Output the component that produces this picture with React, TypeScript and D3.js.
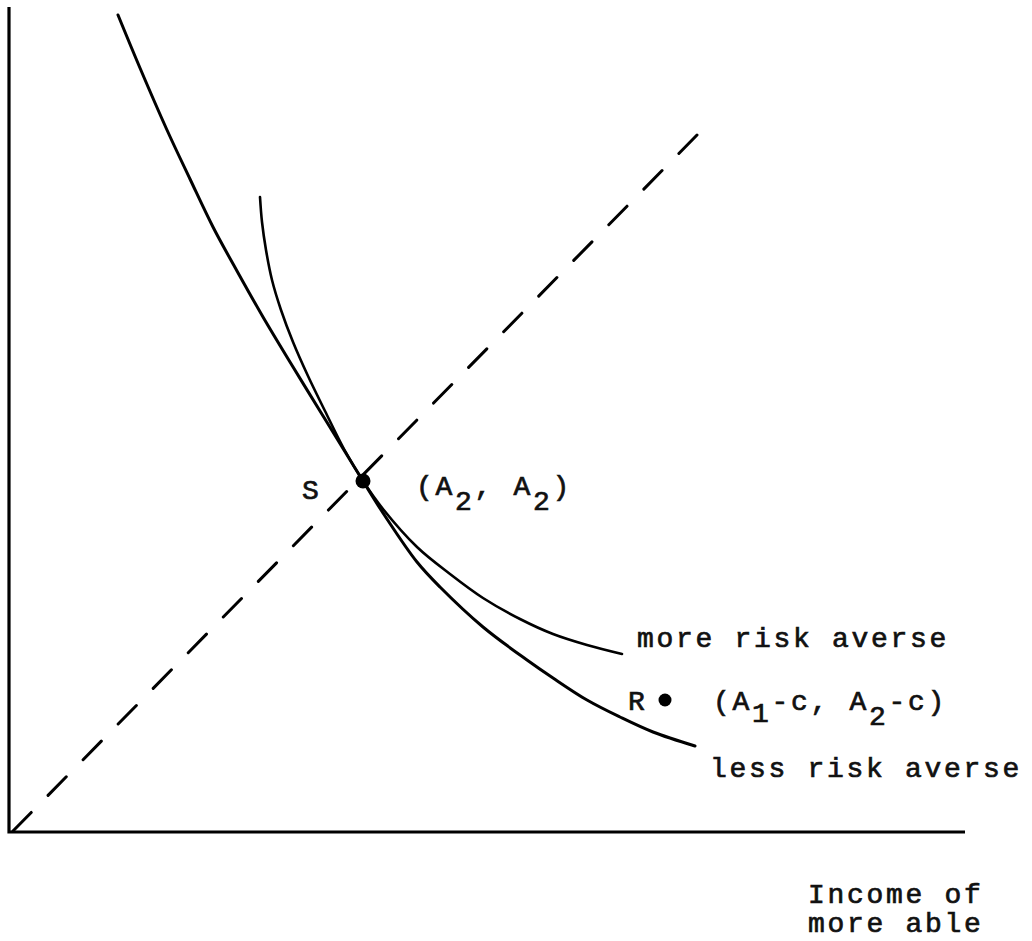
import * as d3 from "d3";
import React from "react";

const W = 1032;
const H = 941;

// curve points (x = income of more able, y = income of less able)
const lessAverseX = [10.6, 12.8, 15.5, 17.8, 20.1, 22.5, 25.1, 27.8, 30.8, 33.5, 35.1, 37.3, 40.5, 42.8, 47.1, 51.5, 54.1, 57.5, 60.8, 64.1, 68.3];
const lessAverseY = [81.6, 76.3, 70.1, 65.2, 60.4, 56.0, 51.4, 46.9, 42.0, 37.6, 35.0, 31.5, 26.9, 24.4, 20.4, 17.1, 15.3, 13.1, 11.4, 9.9, 8.5];

const moreAverseX = [24.8, 25.0, 25.4, 26.0, 26.9, 28.1, 29.6, 31.3, 33.2, 35.1, 37.1, 40.5, 43.8, 47.1, 50.8, 54.1, 57.5, 61.0];
const moreAverseY = [63.4, 60.9, 58.1, 55.1, 52.1, 48.9, 45.5, 42.0, 38.2, 35.0, 32.2, 28.4, 25.7, 23.3, 21.2, 19.7, 18.6, 17.7];

// certainty line (45 degrees)
const diagX = [0.1, 68.5];
const diagY = [0, 69.6];

// points S and R
const pointNames = ["S", "R"];
const pointX = [35.1, 65.3];
const pointY = [35.0, 13.1];

const FONT = "'Liberation Mono', 'DejaVu Sans Mono', monospace";

export default function App() {
    const x = d3.scaleLinear().domain([0, 95.3]).range([12, 965]);
    const y = d3.scaleLinear().domain([0, 82.4]).range([831, 7]);

    const line = d3
        .line<[number, number]>()
        .x((d) => x(d[0]))
        .y((d) => y(d[1]))
        .curve(d3.curveCatmullRom.alpha(0.5));

    const straight = d3
        .line<[number, number]>()
        .x((d) => x(d[0]))
        .y((d) => y(d[1]));

    const less = lessAverseX.map((v, i) => [v, lessAverseY[i]] as [number, number]);
    const more = moreAverseX.map((v, i) => [v, moreAverseY[i]] as [number, number]);
    const diag = diagX.map((v, i) => [v, diagY[i]] as [number, number]);

    const axis: [number, number][] = [
        [-0.3, 82.4],
        [-0.3, -0.1],
        [95.3, -0.1],
    ];

    const txt = {
        fontFamily: FONT,
        fontSize: 28,
        letterSpacing: 2.7,
        fill: "#111",
        stroke: "#111",
        strokeWidth: 0.7,
    } as React.CSSProperties;

    return (
        <svg
            width={W}
            height={H}
            viewBox={`0 0 ${W} ${H}`}
            style={{ position: "absolute", left: 0, top: 0, background: "#fff" }}
        >
            {/* axes */}
            <path d={straight(axis) ?? ""} fill="none" stroke="#000" strokeWidth={3.2} />

            {/* dashed 45 degree line */}
            <path
                d={straight(diag) ?? ""}
                fill="none"
                stroke="#000"
                strokeWidth={3}
                strokeDasharray="26 24"
                strokeLinecap="round"
            />

            {/* indifference curves */}
            <path d={line(less) ?? ""} fill="none" stroke="#000" strokeWidth={3} strokeLinecap="round" />
            <path d={line(more) ?? ""} fill="none" stroke="#000" strokeWidth={2.6} strokeLinecap="round" />

            {/* points */}
            {pointNames.map((n, i) => (
                <circle key={n} cx={x(pointX[i])} cy={y(pointY[i])} r={n === "S" ? 7.5 : 6.5} fill="#000" />
            ))}

            {/* labels */}
            <text x={302} y={499} style={txt}>S</text>
            <text x={416} y={495} style={txt}>
                (A<tspan dy={15}>2</tspan>
                <tspan dy={-15}>, A</tspan>
                <tspan dy={15}>2</tspan>
                <tspan dy={-15}>)</tspan>
            </text>

            <text x={637} y={647} style={txt}>more risk averse</text>

            <text x={628} y={710} style={txt}>R</text>
            <text x={713} y={710} style={txt}>
                (A<tspan dy={12}>1</tspan>
                <tspan dy={-12}>-c, A</tspan>
                <tspan dy={15}>2</tspan>
                <tspan dy={-15}>-c)</tspan>
            </text>

            <text x={710} y={777} style={txt}>less risk averse</text>

            <text x={808} y={903} style={txt}>Income of</text>
            <text x={808} y={932} style={txt}>more able</text>
        </svg>
    );
}
